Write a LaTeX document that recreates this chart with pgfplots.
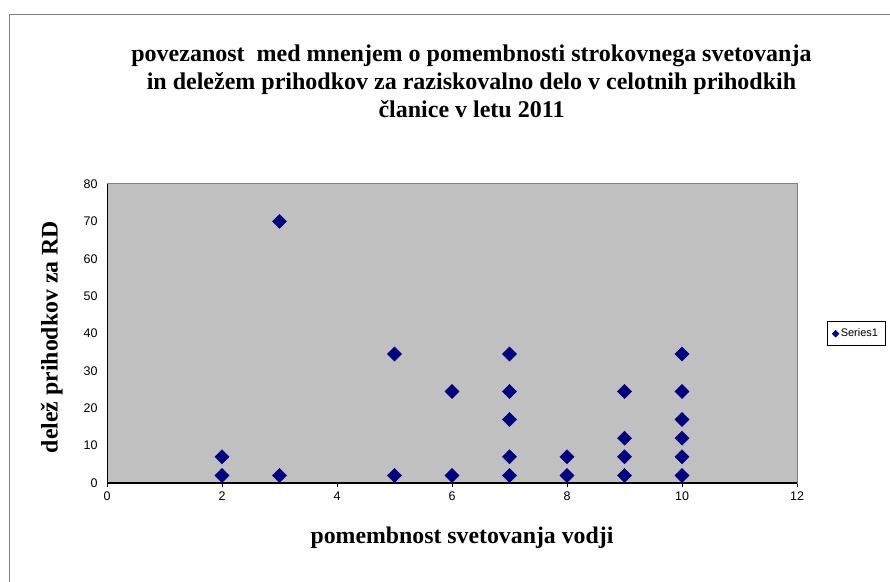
\documentclass[border=0pt]{standalone}
\usepackage{fontspec}
\setmainfont{Liberation Serif}
\newfontfamily\arial{Liberation Sans}
\usepackage{pgfplots}
\usepackage{pgfplotstable}
\pgfplotsset{compat=1.18}
\definecolor{plotgray}{HTML}{C0C0C0}
\definecolor{navy}{HTML}{000080}
\definecolor{bordergray}{HTML}{808080}
\pgfplotstableread{
x y
2 2
2 7
3 2
3 70
5 2
5 34.5
6 2
6 24.5
7 2
7 7
7 17
7 24.5
7 34.5
8 2
8 7
9 2
9 7
9 12
9 24.5
10 2
10 7
10 12
10 17
10 24.5
10 34.5
}\datatable
\begin{document}
\begin{tikzpicture}[x=1pt,y=1pt]
\useasboundingbox (0,0) rectangle (890,581);
\draw[bordergray, line width=1.3pt] (9.8,-2) -- (9.8,566.5) -- (892,566.5);
\node[font=\bfseries\fontsize{24}{28}\selectfont, align=center] at (471.5,500)
  {povezanost\ \ med mnenjem o pomembnosti strokovnega svetovanja\\in deležem prihodkov za raziskovalno delo v celotnih prihodkih\\članice v letu 2011};
\begin{axis}[
  at={(107pt,98pt)}, anchor=south west,
  scale only axis, width=690pt, height=299pt,
  xmin=0, xmax=12, ymin=0, ymax=80,
  xtick={0,2,...,12}, ytick={0,10,...,80},
  axis background/.style={fill=plotgray},
  axis line style={bordergray, line width=1pt},
  tick align=outside,
  major tick length=4pt,
  xtick style={black, line width=1pt},
  ytick style={draw=none},
  xtick pos=bottom, ytick pos=left,
  /pgf/number format/assume math mode=true,
  ticklabel style={font=\arial\fontsize{12.5}{14}\selectfont},
  yticklabel style={xshift=-2pt},
  xticklabel style={yshift=-1pt},
  xlabel={pomembnost svetovanja vodji},
  xlabel style={font=\bfseries\fontsize{23.8}{28}\selectfont, at={(axis description cs:0.5145,-0.184)}, anchor=center},
  ylabel={delež prihodkov za RD},
  ylabel style={font=\bfseries\fontsize{23.8}{28}\selectfont, at={(axis description cs:-0.08,0.488)}, anchor=center, rotate=0},
  legend style={at={(axis description cs:1.0435,0.5418)}, anchor=north west,
    draw=black, fill=white, line width=0.8pt, font=\arial\fontsize{11}{13}\selectfont,
    inner xsep=5pt, inner ysep=5.5pt},
  legend image post style={mark options={rotate=45, fill=navy, draw=navy, scale=0.45}},
  clip=false,
]
\draw[black, line width=1pt] (rel axis cs:0,0) -- (rel axis cs:0,1);
\draw[black, line width=1.6pt] (rel axis cs:0,0) -- (rel axis cs:1,0);
\addplot[only marks, mark=square*, mark size=5pt, mark options={rotate=45, fill=navy, draw=navy}] table[x=x,y=y] {\datatable};
\addlegendentry{Series1}
\end{axis}
\end{tikzpicture}
\end{document}
